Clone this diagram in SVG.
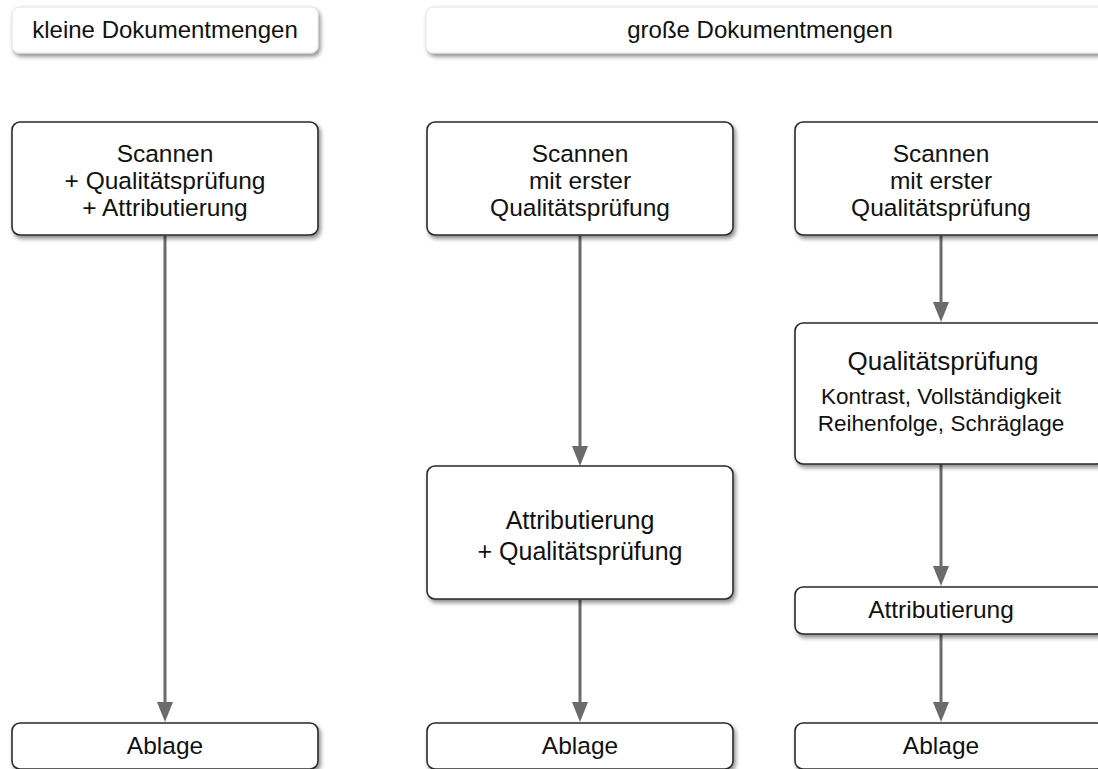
<svg xmlns="http://www.w3.org/2000/svg" width="1098" height="769" viewBox="0 0 1098 769">
<defs>
<filter id="sh" x="-10%" y="-10%" width="130%" height="140%">
<feDropShadow dx="2" dy="3" stdDeviation="2" flood-color="#000" flood-opacity="0.45"/>
</filter>
<marker id="ah" viewBox="0 0 20 16" refX="2" refY="8" markerWidth="20" markerHeight="16" markerUnits="userSpaceOnUse" orient="auto">
<path d="M0,0 L20,8 L0,16 Z" fill="#6b6b6b"/>
</marker>
</defs>
<style>
.hdr{fill:#fff;stroke:#e2e2e2;stroke-width:1;filter:url(#sh)}
.box{fill:#fff;stroke:#2a2a2a;stroke-width:1.6;filter:url(#sh)}
text{font-family:"Liberation Sans",Arial,Helvetica,sans-serif;fill:#111;text-anchor:middle}
.h{font-size:24px}
.t{font-size:24.5px}
.m{font-size:25px}
.big{font-size:26px}
.s{font-size:22.5px}
.c line{stroke:#6b6b6b;stroke-width:3;marker-end:url(#ah)}
</style>
<rect width="1098" height="769" fill="#fff"/>
<g id="hdr-klein"><rect class="hdr" x="12" y="7" width="306" height="46" rx="7"/><text class="h" x="165" y="38">kleine Dokumentmengen</text></g>
<g id="hdr-gross"><rect class="hdr" x="426" y="7" width="680" height="46" rx="7"/><text class="h" x="760" y="38">große Dokumentmengen</text></g>
<g class="c" id="connectors">
<line x1="165" y1="236" x2="165" y2="704"/>
<line x1="580" y1="236" x2="580" y2="448"/>
<line x1="580" y1="600" x2="580" y2="704"/>
<line x1="941" y1="236" x2="941" y2="304"/>
<line x1="941" y1="464" x2="941" y2="568"/>
<line x1="941" y1="634" x2="941" y2="704"/>
</g>
<g id="n1"><rect class="box" x="12" y="122" width="306" height="113" rx="8"/><text class="t" x="165" y="162">Scannen</text><text class="t" x="165" y="189">+ Qualitätsprüfung</text><text class="t" x="165" y="216">+ Attributierung</text></g>
<g id="n2"><rect class="box" x="427" y="122" width="306" height="113" rx="8"/><text class="t" x="580" y="162">Scannen</text><text class="t" x="580" y="189">mit erster</text><text class="t" x="580" y="216">Qualitätsprüfung</text></g>
<g id="n3"><rect class="box" x="795" y="122" width="310" height="113" rx="8"/><text class="t" x="941" y="162">Scannen</text><text class="t" x="941" y="189">mit erster</text><text class="t" x="941" y="216">Qualitätsprüfung</text></g>
<g id="n4"><rect class="box" x="427" y="466" width="306" height="133" rx="8"/><text class="m" x="580" y="529">Attributierung</text><text class="m" x="580" y="560">+ Qualitätsprüfung</text></g>
<g id="n5"><rect class="box" x="795" y="323" width="310" height="141" rx="8"/><text class="big" x="943" y="370">Qualitätsprüfung</text><text class="s" x="941" y="404">Kontrast, Vollständigkeit</text><text class="s" x="941" y="431">Reihenfolge, Schräglage</text></g>
<g id="n6"><rect class="box" x="795" y="587" width="310" height="47" rx="8"/><text class="t" x="941" y="618">Attributierung</text></g>
<g id="n7"><rect class="box" x="12" y="723" width="306" height="46" rx="8"/><text class="t" x="165" y="754">Ablage</text></g>
<g id="n8"><rect class="box" x="427" y="723" width="306" height="46" rx="8"/><text class="t" x="580" y="754">Ablage</text></g>
<g id="n9"><rect class="box" x="795" y="723" width="310" height="46" rx="8"/><text class="t" x="941" y="754">Ablage</text></g>
</svg>
